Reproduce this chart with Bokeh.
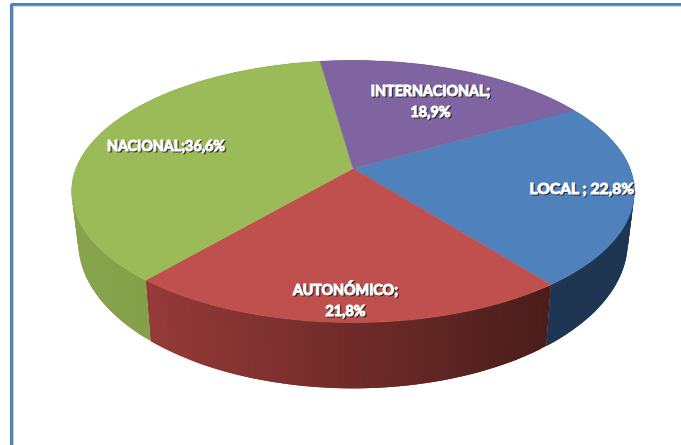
import numpy as np
from bokeh.plotting import figure
from bokeh.embed import file_html
from bokeh.resources import INLINE
from bokeh.core.properties import value

# data, clockwise from the violet/blue boundary
categories = ["LOCAL", "AUTONÓMICO", "NACIONAL", "INTERNACIONAL"]
shares = [22.8, 21.8, 36.6, 18.9]
top_colors = ["#4F81BD", "#C0504D", "#9BBB59", "#8064A2"]
wall_left = ["#1E3652", "#963A38", "#87A44C", "#5F4A7A"]
wall_right = ["#1E3652", "#4A1D1B", "#7C9A45", "#5F4A7A"]
label_lines = [["LOCAL ; 22,8%"], ["AUTONÓMICO;", "21,8%"], ["NACIONAL;36,6%"], ["INTERNACIONAL;", "18,9%"]]
label_x = [581.5, 345, 165.5, 430]
label_y = [187, 299.5, 145, 100]
label_px = ["15.6px", "14.3px", "14.3px", "14.3px"]

START_DEG = -30.0
K = 0.1756


def project(theta, cx, cy, a, b):
    u, v = np.cos(theta), np.sin(theta)
    w = 1 - K * v
    return cx + a * u / w, cy + b * v / w


def top_xy(t):
    return project(t, 352.5, 168, 277, 127)


def bot_xy(t):
    return project(t, 352.5, 216, 270.5, 141.7)


def hex_rgb(c):
    return np.array([int(c[i:i + 2], 16) for i in (1, 3, 5)], float)


p = figure(width=681, height=445, x_range=(0, 681), y_range=(445, 0),
           toolbar_location=None, output_backend="svg", min_border=0,
           outline_line_color=None, background_fill_color="white")
p.axis.visible = False
p.grid.visible = False
p.styles = {"position": "absolute", "left": "0px", "top": "0px"}

# frame
p.line([681, 11, 11], [4, 4, 445], line_color="#4F81BD", line_width=3)
p.line([681, 13, 13], [5.8, 5.8, 445], line_color="#C9D3E0", line_width=1)

total = sum(shares)
edges = np.radians(START_DEG + np.cumsum([0] + shares) / total * 360)

# walls: overlapping quads, shaded from left to right
for i in range(len(shares)):
    a0, a1 = edges[i], edges[i + 1]
    n = max(int((a1 - a0) / np.radians(1.5)), 2)
    t = np.linspace(a0, a1, n + 1)
    tx, ty = top_xy(t)
    bx, by = bot_xy(t)
    lo, hi = min(tx.min(), bx.min()), max(tx.max(), bx.max())
    cl, cr = hex_rgb(wall_left[i]), hex_rgb(wall_right[i])
    xs, ys, cols = [], [], []
    for j in range(n):
        e = min(j + 2, n)  # each quad reaches under its neighbour
        xs.append([tx[j], tx[e], bx[e], bx[j]])
        ys.append([ty[j], ty[e], by[e], by[j]])
        f = ((tx[j] + tx[j + 1]) / 2 - lo) / (hi - lo)
        c = cl + (cr - cl) * f
        cols.append("#%02x%02x%02x" % tuple(int(round(q)) for q in c))
    p.patches(xs, ys, fill_color=cols, line_color=None)

# top faces
for i in range(len(shares)):
    t = np.linspace(edges[i], edges[i + 1], 120)
    x, y = top_xy(t)
    p.patch(np.r_[352.5, x], np.r_[168, y], fill_color=top_colors[i],
            line_color=top_colors[i], line_width=0.5)

# labels, with a drop shadow
for i, lines in enumerate(label_lines):
    n = len(lines)
    for j, s in enumerate(lines):
        yy = label_y[i] + (j - (n - 1) / 2) * 21
        p.text([label_x[i] + 1.2], [yy + 1.4], text=[s], text_font=value("Lato"),
               text_font_style="bold", text_font_size=label_px[i], text_align="center",
               text_baseline="middle", text_color="#1a1a1a", text_alpha=0.85,
               text_outline_color="#1a1a1a")
        p.text([label_x[i]], [yy], text=[s], text_font=value("Lato"),
               text_font_style="bold", text_font_size=label_px[i], text_align="center",
               text_baseline="middle", text_color="white", text_outline_color="white")

open("out.html", "w").write(file_html(p, INLINE))
